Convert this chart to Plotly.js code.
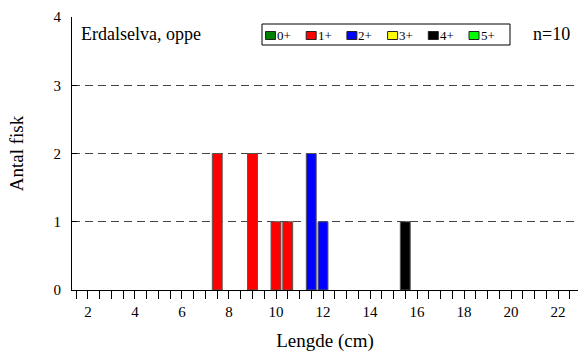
<!DOCTYPE html>
<html><head><meta charset="utf-8">
<script src="https://cdn.plot.ly/plotly-3.0.1.min.js"></script>
<style>html,body{margin:0;padding:0;background:#fff}</style>
</head><body><div id="chart" style="width:578px;height:352px"></div>
<script>
const ageClasses = ['0+','1+','2+','3+','4+','5+'];
const ageColors = ['#008000','#ff0000','#0000ff','#ffff00','#000000','#00ff00'];
const lengths = [[null], [7.5, 9, 10, 10.5], [11.5, 12], [null], [15.5], [null]];
const counts  = [[null], [2, 2, 1, 1], [2, 1], [null], [1], [null]];
const xTickVals = [2,4,6,8,10,12,14,16,18,20,22];
const yTickVals = [0,1,2,3,4];
const titleText = 'Erdalselva, oppe';
const nText = 'n=10';

const font = 'Liberation Serif, Times New Roman, serif';
const W = 578, H = 352, M = {l:72, r:0, t:17, b:62};
const pw = W - M.l - M.r, ph = H - M.t - M.b;
const px = x => (x - M.l) / pw;          // pixel -> paper x
const py = y => (H - M.b - y) / ph;      // pixel -> paper y

const traces = ageClasses.map((a,i)=>({
  type:'bar', name:a, x:lengths[i], y:counts[i], width:0.42,
  marker:{color:ageColors[i], line:{color:'#555', width:1}},
  showlegend:false
}));

// compact legend box built from the age-class arrays
const shapes = [{type:'rect', xref:'paper', yref:'paper', x0:px(262), x1:px(510), y0:py(45), y1:py(24),
  line:{color:'#000', width:1}, fillcolor:'#fff', layer:'above'}];
const annotations = [
  {text:titleText, xref:'paper', yref:'paper', x:px(79), y:py(34), xanchor:'left', yanchor:'middle', showarrow:false, font:{size:18}},
  {text:nText, xref:'paper', yref:'paper', x:px(572), y:py(34), xanchor:'right', yanchor:'middle', showarrow:false, font:{size:18}}
];
ageClasses.forEach((a,i)=>{
  const sx = 265.5 + i*40.7;
  shapes.push({type:'rect', xref:'paper', yref:'paper', x0:px(sx), x1:px(sx+10), y0:py(39.5), y1:py(31.5),
    fillcolor:ageColors[i], line:{color:'#222', width:1}, layer:'above'});
  annotations.push({text:a, xref:'paper', yref:'paper', x:px(sx+10.5), y:py(35.5), xanchor:'left', yanchor:'middle',
    showarrow:false, font:{size:13}, borderpad:0});
});

const layout = {
  width:W, height:H, margin:M,
  paper_bgcolor:'#fff', plot_bgcolor:'#fff',
  barmode:'overlay', showlegend:false,
  font:{family:font, size:13, color:'#000'},
  xaxis:{range:[1.32,22.85], tickvals:xTickVals, ticks:'outside', ticklen:8, tickcolor:'#000',
    showgrid:false, zeroline:false, showline:true, linecolor:'#000', linewidth:1,
    minor:{dtick:0.5, tick0:0, ticks:'outside', ticklen:8, tickcolor:'#000', showgrid:false},
    tickfont:{family:font, size:15}, title:{text:'Lengde (cm)', font:{family:font, size:19}, standoff:16}},
  yaxis:{range:[0,4], tickvals:yTickVals, ticks:'inside', ticklen:5, tickcolor:'#000',
    showgrid:true, gridcolor:'#444', griddash:'8px,5px', gridwidth:1, zeroline:false,
    showline:true, linecolor:'#000', linewidth:1, ticklabelstandoff:7,
    tickfont:{family:font, size:15}, title:{text:'Antal fisk', font:{family:font, size:19}, standoff:24}},
  shapes, annotations
};
Plotly.newPlot('chart', traces, layout, {displayModeBar:false, staticPlot:true});
</script></body></html>
